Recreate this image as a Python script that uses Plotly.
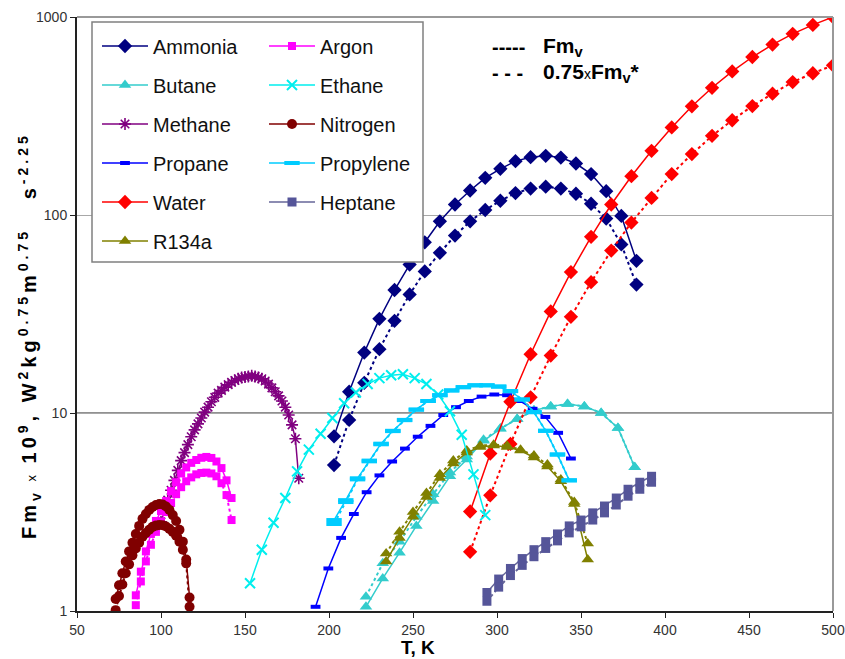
import plotly.graph_objects as go

# ---------------- data ----------------
ammonia_T = [203, 212, 221, 230, 239, 248, 257, 266, 275, 284, 293, 302, 311, 320, 329, 338, 347, 356, 365, 374, 383]
ammonia_fm = [7.62, 12.8, 20.2, 29.9, 41.8, 56.2, 72.8, 92.9, 113, 133, 154, 171, 187, 196, 199, 195, 182, 161, 132, 98.9, 58.7]
ammonia_fm075 = [5.46, 9.23, 14.2, 21.0, 29.2, 39.7, 51.9, 64.4, 78.7, 92.9, 106, 118, 129, 136, 139, 136, 128, 114, 95.9, 71.0, 44.5]

water_T = [284, 296, 308, 320, 332, 344, 356, 368, 380, 392, 404, 416, 428, 440, 452, 464, 476, 488, 500]
water_fm = [3.18, 6.24, 11.4, 19.8, 32.6, 51.5, 77.6, 113, 157, 211, 277, 354, 439, 531, 628, 726, 822, 912, 1000]
water_fm075 = [1.99, 3.84, 6.98, 12.0, 19.5, 30.6, 45.8, 66.1, 91.6, 122, 161, 203, 251, 301, 355, 410, 469, 520, 570]

methane_T = [100, 102, 104, 106, 108, 110, 112, 114, 116, 118, 120, 122, 124, 126, 128, 130, 132, 134, 136, 138, 140,
             142, 144, 146, 148, 150, 152, 154, 156, 158, 160, 162, 164, 166, 168, 170, 172, 174, 176, 178, 180, 182]
methane_fm = [2.82, 3.24, 3.63, 4.07, 4.57, 5.13, 5.75, 6.31, 6.92, 7.59, 8.22, 8.81, 9.44, 10.1, 10.7, 11.4, 12.0, 12.6,
              13.0, 13.5, 13.9, 14.3, 14.6, 14.9, 15.1, 15.2, 15.3, 15.4, 15.3, 15.1, 14.9, 14.5, 14.0, 13.4, 12.8, 12.2,
              11.5, 10.7, 9.77, 8.71, 7.41, 4.68]

argon_T = [85, 88, 91, 94, 97, 100, 103, 106, 109, 112, 115, 118, 121, 124, 127, 130, 133, 136, 139, 142]
argon_fm = [1.20, 1.58, 2.00, 2.45, 2.85, 3.20, 3.59, 4.03, 4.47, 4.95, 5.31, 5.60, 5.79, 5.94, 6.00, 5.93, 5.69, 5.27, 4.57, 3.72]
argon_fm075 = [1.07, 1.41, 1.78, 2.16, 2.51, 2.82, 3.16, 3.51, 3.89, 4.22, 4.52, 4.73, 4.90, 4.98, 5.00, 4.95, 4.79, 4.42, 3.85, 2.88]

nitrogen_T = [73, 75, 77, 79, 81, 83, 85, 87, 89, 91, 93, 95, 97, 99, 101, 103, 105, 107, 109, 111, 113, 115, 117]
nitrogen_fm = [1.15, 1.35, 1.55, 1.78, 2.00, 2.21, 2.45, 2.69, 2.92, 3.09, 3.24, 3.35, 3.43, 3.47, 3.45, 3.37, 3.24,
               3.05, 2.85, 2.57, 2.24, 1.82, 1.17]
nitrogen_fm075 = [1.01, 1.19, 1.36, 1.55, 1.72, 1.91, 2.07, 2.21, 2.37, 2.48, 2.57, 2.66, 2.70, 2.72, 2.71, 2.67, 2.60,
                  2.51, 2.40, 2.24, 2.04, 1.74, 1.05]

ethane_T = [153, 160, 167, 174, 181, 188, 195, 202, 209, 216, 223, 230, 237, 244, 251, 258, 265, 272, 279, 286, 293]
ethane_fm = [1.38, 2.04, 2.79, 3.72, 5.07, 6.53, 7.85, 9.44, 11.2, 12.7, 14.0, 15.0, 15.5, 15.7, 15.0, 14.0, 12.4, 10.2,
             7.76, 4.90, 3.05]

propylene_T = [203, 210, 217, 224, 231, 238, 245, 252, 259, 266, 273, 280, 287, 294, 301, 308, 315, 322, 329, 336, 343]
propylene_fm = [2.88, 3.63, 4.68, 5.75, 7.00, 8.13, 9.23, 10.4, 11.5, 12.3, 13.0, 13.5, 13.8, 13.8, 13.6, 12.9, 11.7,
                10.1, 8.13, 6.17, 4.57]
propylene_fm075 = [2.75, 3.55, 4.62, 5.70, 6.95, 8.10, 9.20, 10.4, 11.5, 12.3, 13.0, 13.5, 13.8, 13.8, 13.6, 12.9, 11.7,
                   10.1, 8.13, 6.17, 4.57]

propane_T = [192, 199.6, 207.2, 214.8, 222.4, 230, 237.6, 245.2, 252.8, 260.4, 268, 275.6, 283.2, 290.8, 298.4, 306,
             313.6, 321.2, 328.8, 336.4, 344]
propane_fm = [1.05, 1.64, 2.34, 3.09, 3.98, 4.84, 5.69, 6.61, 7.59, 8.61, 9.77, 10.7, 11.5, 12.1, 12.4, 12.3, 11.5,
              10.5, 9.55, 7.94, 5.89]

butane_T = [222, 232, 242, 252, 262, 272, 282, 292, 302, 312, 322, 332, 342, 352, 362, 372, 382]
butane_fm = [1.05, 1.46, 1.97, 2.69, 3.59, 4.79, 5.82, 7.24, 8.32, 9.33, 10.3, 10.8, 11.1, 10.8, 10.0, 8.41, 5.32]
butane_fm075 = [1.18, 1.74, 2.24, 2.99, 3.89, 5.01, 6.03, 7.33, 8.36, 9.33, 10.3, 10.8, 11.1, 10.8, 10.0, 8.41, 5.32]

r134a_T = [234, 242, 250, 258, 266, 274, 282, 290, 298, 306, 314, 322, 330, 338, 346, 354]
r134a_fm = [1.78, 2.34, 2.99, 3.76, 4.70, 5.56, 6.31, 6.73, 6.85, 6.73, 6.46, 5.96, 5.37, 4.52, 3.47, 1.82]
r134a_fm075 = [1.95, 2.51, 3.16, 3.94, 4.90, 5.75, 6.46, 6.84, 6.92, 6.84, 6.53, 6.10, 5.50, 4.62, 3.55, 2.19]

heptane_T = [294, 301, 308, 315, 322, 329, 336, 343, 350, 357, 364, 371, 378, 385, 392]
heptane_fm = [1.24, 1.45, 1.64, 1.84, 2.04, 2.24, 2.45, 2.69, 2.88, 3.13, 3.39, 3.72, 4.12, 4.47, 4.79]
heptane_fm075 = [1.12, 1.32, 1.51, 1.70, 1.88, 2.07, 2.26, 2.48, 2.66, 2.88, 3.13, 3.43, 3.80, 4.12, 4.47]

x_ticks = [50, 100, 150, 200, 250, 300, 350, 400, 450, 500]
y_ticks = [1, 10, 100, 1000]

# ---------------- styling ----------------
W, H = 845, 659
L, R, T, B = 77, 12, 17, 48
PW, PH = W - L - R, H - T - B


def px(xp):
    return (xp - L) / PW


def py(yp):
    return (H - B - yp) / PH


FONT = "Liberation Sans, Arial, sans-serif"
NARROW = "Liberation Sans Narrow, Arial Narrow, Liberation Sans, Arial, sans-serif"

fig = go.Figure()


def marker(symbol, color, size, open_line=None):
    if open_line is not None:
        return dict(symbol=symbol, size=size, color=color, line=dict(color=color, width=open_line))
    return dict(symbol=symbol, size=size, color=color, line=dict(width=0))


def add(name, xs, ys, color, mk, legend, ys2=None, width=1.5):
    fig.add_trace(go.Scatter(x=xs, y=ys, name=name, mode="lines+markers", legend=legend,
                             legendgroup=name, line=dict(color=color, width=width), marker=mk))
    if ys2 is not None:
        fig.add_trace(go.Scatter(x=xs, y=ys2, name=name, mode="lines+markers", legend=legend,
                                 legendgroup=name, showlegend=False,
                                 line=dict(color=color, width=2, dash="dot"), marker=mk))


# left legend column
add("Ammonia", ammonia_T, ammonia_fm, "#000080", marker("diamond", "#000080", 11), "legend", ammonia_fm075)
add("Butane", butane_T, butane_fm, "#33CCCC", marker("triangle-up", "#33CCCC", 11), "legend", butane_fm075)
add("Methane", methane_T, methane_fm, "#800080", marker("asterisk-open", "#800080", 10, 1.6), "legend")
add("Propane", propane_T, propane_fm, "#0000FF", marker("line-ew-open", "#0000FF", 7, 4), "legend")
add("Water", water_T, water_fm, "#FF0000", marker("diamond", "#FF0000", 11), "legend", water_fm075)
add("R134a", r134a_T, r134a_fm, "#808000", marker("triangle-up", "#808000", 11), "legend", r134a_fm075)
# right legend column
add("Argon", argon_T, argon_fm, "#FF00FF", marker("square", "#FF00FF", 8), "legend2", argon_fm075)
add("Ethane", ethane_T, ethane_fm, "#00EEEE", marker("x-thin-open", "#00EEEE", 10, 2), "legend2")
add("Nitrogen", nitrogen_T, nitrogen_fm, "#800000", marker("circle", "#800000", 10), "legend2", nitrogen_fm075)
add("Propylene", propylene_T, propylene_fm, "#00CCFF", marker("line-ew-open", "#00CCFF", 11, 4), "legend2",
    propylene_fm075)
add("Heptane", heptane_T, heptane_fm, "#666699", marker("square", "#555599", 9), "legend2", heptane_fm075)

legend_common = dict(xanchor="left", yanchor="top", bgcolor="rgba(0,0,0,0)", borderwidth=0,
                     font=dict(family=FONT, size=20, color="#111111"), tracegroupgap=10,
                     itemwidth=46, itemclick=False, itemdoubleclick=False)

fig.update_layout(
    width=W, height=H,
    margin=dict(l=L, r=R, t=T, b=B, pad=0, autoexpand=False),
    paper_bgcolor="white", plot_bgcolor="white",
    showlegend=True,
    legend=dict(x=px(97), y=py(26.5), **legend_common),
    legend2=dict(x=px(264), y=py(26.5), **legend_common),
    xaxis=dict(range=[50, 500], tickvals=x_ticks, ticktext=[str(v) for v in x_ticks], automargin=False,
               showgrid=False, zeroline=False, showline=True, linecolor="#222222", linewidth=2,
               ticks="outside", ticklen=5, tickcolor="#222222",
               tickfont=dict(family=NARROW, size=14, color="#333333")),
    yaxis=dict(type="log", range=[0, 3], tickvals=y_ticks, ticktext=[str(v) for v in y_ticks], automargin=False,
               showgrid=True, gridcolor="#a8a8a8", gridwidth=1, zeroline=False,
               showline=True, linecolor="#222222", linewidth=2,
               ticks="outside", ticklen=5, tickcolor="#222222",
               tickfont=dict(family=NARROW, size=14, color="#333333")),
    shapes=[
        dict(type="line", xref="paper", yref="y", x0=0, x1=1, y0=10, y1=10,
             line=dict(color="#222222", width=1), layer="below"),
        dict(type="line", xref="paper", yref="paper", x0=0, x1=1, y0=1, y1=1,
             line=dict(color="#999999", width=2)),
        dict(type="line", xref="paper", yref="paper", x0=1, x1=1, y0=0, y1=1,
             line=dict(color="#999999", width=2)),
        dict(type="rect", xref="paper", yref="paper", x0=px(92), x1=px(423), y0=py(262), y1=py(22),
             fillcolor="white", line=dict(color="#808080", width=1.5), layer="above"),
    ],
    annotations=[
        dict(text="<b>-----</b>", xref="paper", yref="paper", x=px(490), y=py(47),
             xanchor="left", yanchor="middle", showarrow=False,
             font=dict(family=FONT, size=20, color="black")),
        dict(text="<b>Fm<sub>v</sub></b>", xref="paper", yref="paper", x=px(541), y=py(47),
             xanchor="left", yanchor="middle", showarrow=False,
             font=dict(family=FONT, size=21, color="black")),
        dict(text="<b>- - -</b>", xref="paper", yref="paper", x=px(490), y=py(73),
             xanchor="left", yanchor="middle", showarrow=False,
             font=dict(family=FONT, size=20, color="black")),
        dict(text="<b>0.75</b><span style='font-size:14px'>x</span><b>Fm<sub>v</sub>*</b>",
             xref="paper", yref="paper", x=px(541), y=py(73),
             xanchor="left", yanchor="middle", showarrow=False,
             font=dict(family=FONT, size=21, color="black")),
        dict(text="<b>T, K</b>", xref="paper", yref="paper", x=px(418), y=py(647),
             xanchor="center", yanchor="middle", showarrow=False,
             font=dict(family=FONT, size=19, color="black")),
        dict(text="<span style='letter-spacing:4px'><b>Fm<sub>v</sub></b><span style='font-size:13px'> x </span>"
                  "<b>10<sup>9</sup>, W<sup>2</sup>kg<sup>0.75</sup>m<sup>0.75</sup>   s<sup>-2.25</sup></b></span>",
             xref="paper", yref="paper", x=px(30), y=py(336), textangle=-90,
             xanchor="center", yanchor="middle", showarrow=False,
             font=dict(family=FONT, size=20, color="black")),
    ],
)

fig.write_html("out.html", config={"displayModeBar": False},
               post_script="document.body.style.margin='0';document.body.style.overflow='hidden';")
